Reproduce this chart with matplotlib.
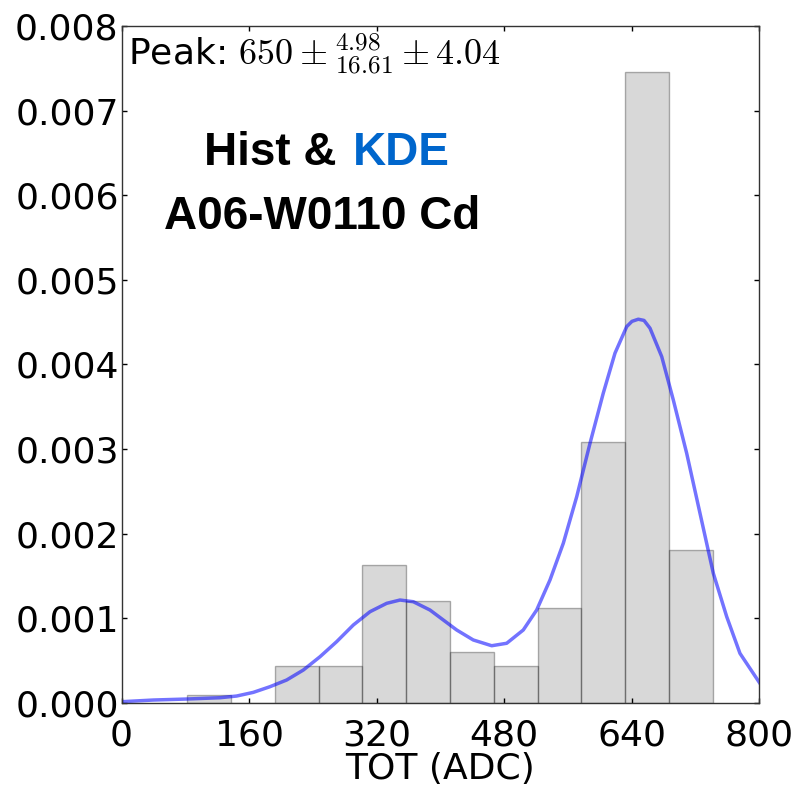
import matplotlib
matplotlib.use("Agg")
import matplotlib.pyplot as plt
import numpy as np

# ---- data ----
hist_min = 82.4
hist_max = 741.3
hist_density = [0.000091, 0.0, 0.000434, 0.000434, 0.00163, 0.001202,
                0.000603, 0.000434, 0.00112, 0.00309, 0.007455, 0.001805]

kde_x = [0.0, 39.9, 81.8, 123.5, 144.4, 165.3, 186.2, 207.1, 228.0, 248.9,
         269.8, 290.7, 311.6, 332.5, 349.2, 365.9, 386.8, 411.9, 420.3,
         441.1, 464.2, 483.0, 503.8, 520.6, 537.3, 554.0, 570.8, 587.5,
         604.1, 618.8, 633.5, 640.1, 648.0, 655.2, 662.7, 677.4, 691.9,
         708.7, 725.4, 742.1, 758.9, 775.5, 800.0]
kde_y = [0.0000154, 0.0000355, 0.0000473, 0.0000626, 0.0000827, 0.000126,
         0.000193, 0.000272, 0.000390, 0.000547, 0.000725, 0.000922,
         0.001079, 0.001178, 0.001217, 0.001197, 0.001099, 0.000922,
         0.000863, 0.000745, 0.000677, 0.000706, 0.000863, 0.001099,
         0.001454, 0.001888, 0.002438, 0.003070, 0.003661, 0.004134,
         0.004448, 0.004510, 0.004535, 0.004521, 0.004429, 0.004093,
         0.003582, 0.002951, 0.002242, 0.001533, 0.001020, 0.000587,
         0.000240]

x_ticks = [0, 160, 320, 480, 640, 800]
y_ticks = [0.000, 0.001, 0.002, 0.003, 0.004, 0.005, 0.006, 0.007, 0.008]

peak_label = r"Peak: $650\pm^{4.98}_{16.61}\pm4.04$"
title_a = "Hist &"
title_b = "KDE"
title_2 = "A06-W0110 Cd"
xlabel = "TOT (ADC)"

# ---- plot ----
plt.rcParams['mathtext.fontset'] = 'cm'
fig = plt.figure(figsize=(8.02, 7.87), dpi=100)
ax = fig.add_axes([0.1515, 0.1067, 0.7955, 0.8603])

n_bins = len(hist_density)
edges = np.linspace(hist_min, hist_max, n_bins + 1)
width = edges[1] - edges[0]
ax.bar(edges[:-1], hist_density, width=width, align='edge',
       color='grey', alpha=0.3, edgecolor='black', linewidth=1.0)

ax.plot(kde_x, kde_y, color='blue', alpha=0.55, lw=2.5,
        solid_joinstyle='round')

ax.set_xlim(0, 800)
ax.set_ylim(0, 0.008)
ax.set_xticks(x_ticks)
ax.set_yticks(y_ticks)
ax.set_yticklabels([f"{v:.3f}" for v in y_ticks])
ax.tick_params(direction='in', length=3.5, width=1, labelsize=26,
               top=True, right=True)
ax.tick_params(axis='y', pad=2)
ax.tick_params(axis='x', pad=11)
ax.set_xlabel(xlabel, fontsize=26, labelpad=0)
for s in ax.spines.values():
    s.set_linewidth(1.0)
    s.set_color('#333333')

ax.text(0.01, 0.992, peak_label, transform=ax.transAxes, ha='left', va='top',
        fontsize=26)

bold = dict(family='Liberation Sans', fontweight='bold', fontsize=33)
ax.text(0.337, 0.812, title_a, transform=ax.transAxes, ha='right',
        va='center', color='black', **bold)
ax.text(0.362, 0.812, title_b, transform=ax.transAxes, ha='left',
        va='center', color='#0066cc', **bold)
ax.text(0.315, 0.718, title_2, transform=ax.transAxes, ha='center',
        va='center', color='black', **bold)

fig.savefig("out.png", dpi=100)
